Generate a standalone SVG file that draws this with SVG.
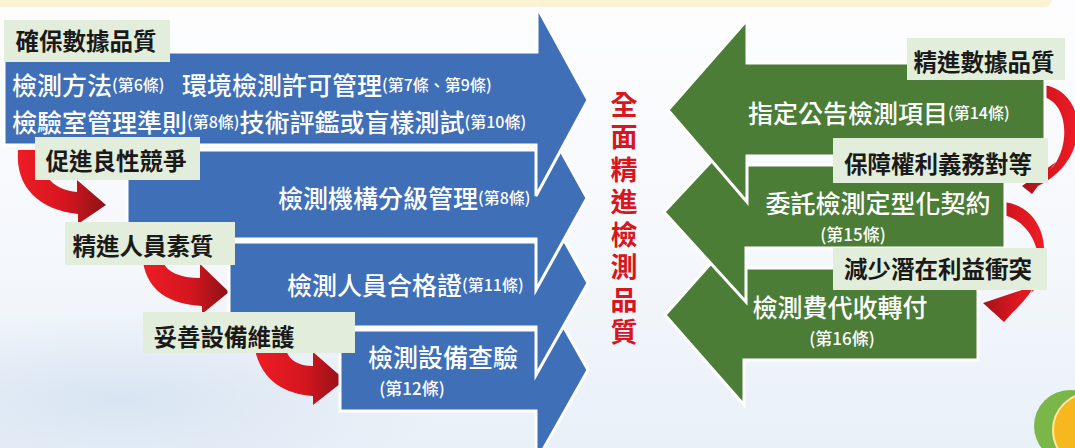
<svg xmlns="http://www.w3.org/2000/svg" width="1075" height="448" viewBox="0 0 1075 448">
<defs>
<linearGradient id="bg" x1="0" y1="0" x2="0" y2="1">
<stop offset="0" stop-color="#fdfdfe"/>
<stop offset="0.55" stop-color="#f5f8fc"/>
<stop offset="1" stop-color="#e9f0f8"/>
</linearGradient>
<radialGradient id="blot" cx="0.5" cy="0.5" r="0.5">
<stop offset="0" stop-color="#d6e3f1" stop-opacity="0.9"/>
<stop offset="1" stop-color="#d6e3f1" stop-opacity="0"/>
</radialGradient>
<linearGradient id="redL" x1="0" y1="0" x2="1" y2="0">
<stop offset="0" stop-color="#ee1c25"/>
<stop offset="0.55" stop-color="#d4161f"/>
<stop offset="1" stop-color="#8e1118"/>
</linearGradient>
<linearGradient id="redR" x1="0" y1="0" x2="1" y2="0">
<stop offset="0" stop-color="#a31219"/>
<stop offset="0.5" stop-color="#d8161f"/>
<stop offset="1" stop-color="#ee1c25"/>
</linearGradient>
<style>
.blue{fill:#3f6fb7;stroke:#ffffff;stroke-width:3;stroke-linejoin:miter}
.green{fill:#4b7d37;stroke:#ffffff;stroke-width:3;stroke-linejoin:miter}
.lbl{fill:#e2eedb}
.lt{font-family:"Noto Sans CJK TC","Noto Sans CJK SC",sans-serif;font-size:23.5px;font-weight:700;fill:#1a1a1a;text-anchor:middle;dominant-baseline:central}
.wt{font-family:"Noto Sans CJK TC","Noto Sans CJK SC",sans-serif;font-size:25px;font-weight:500;fill:#ffffff;dominant-baseline:central}
.sm{font-size:16px}
.s17{font-size:17px}
.mid{text-anchor:middle}
.rt{font-family:"Noto Sans CJK TC","Noto Sans CJK SC",sans-serif;font-size:27px;font-weight:700;fill:#d7161f;writing-mode:vertical-rl;letter-spacing:5.5px}
</style>
</defs>
<rect x="0" y="0" width="1075" height="448" fill="url(#bg)"/>
<ellipse cx="120" cy="400" rx="320" ry="90" fill="url(#blot)"/>
<rect x="-10" y="-20" width="1062" height="27" rx="8" fill="#fcf3d5"/>
<g id="deco">
<circle cx="1070" cy="426" r="36" fill="#7ab648"/>
<circle cx="1090" cy="430" r="37" fill="#f6b81e" stroke="#fde6a0" stroke-width="2"/>
</g>
<g id="connectors">
<path d="M18,150 C15,188 40,210 78,214 L78,224 L106,205 L77,180 L77,192 C55,190 42,178 37,150 Z" fill="url(#redL)"/>
<path d="M143,262 C148,292 170,304 202,306 L202,314 L229,292 L200,264 L200,278 C180,278 167,272 163,262 Z" fill="url(#redL)"/>
<path d="M255,350 C262,381 285,394 313,396 L313,405 L345,380 L313,352 L313,366 C298,366 289,360 286,350 Z" fill="url(#redL)"/>
<path d="M1044,85 C1088,92 1092,160 1038,186 L1032,194 L1022,186 L1056,162 L1050,170 C1070,150 1070,105 1044,97 Z" fill="url(#redR)"/>
<path d="M1003,202 C1045,205 1065,265 1013,312 L1004,322 L983,303 L1040,284 L1031,293 C1048,262 1035,222 1003,215 Z" fill="url(#redR)"/>
</g>
<g id="blue4"><polygon class="blue" points="340,330 536,330 536,278 588,370 536,462 536,411 340,411"/></g>
<g id="blue3"><polygon class="blue" points="229,242 536,242 536,190 588,283 536,375 536,327 229,327"/></g>
<g id="blue2"><polygon class="blue" points="127,150 536,150 536,106 587,198 536,290 536,239 127,239"/></g>
<g id="blue1"><polygon class="blue" points="4,52 537,52 537,7 588,100 536,196 536,145 4,145"/></g>
<g id="green3"><polygon class="green" points="978,268 744,268 744,226 665,315 744,405 744,360 978,360"/></g>
<g id="green2"><polygon class="green" points="1005,165 748,165 748,122 664,212 746,302 746,248 1005,248"/></g>
<g id="green1"><polygon class="green" points="1045,63 747,63 747,20 668,110 747,202 747,156 1045,156"/></g>
<g id="label1"><rect class="lbl" x="4" y="20" width="166" height="42"/><text class="lt" x="86" y="40">確保數據品質</text></g>
<g id="label2"><rect class="lbl" x="35" y="137" width="165" height="43"/><text class="lt" x="116" y="160">促進良性競爭</text></g>
<g id="label3"><rect class="lbl" x="65" y="222" width="170" height="43"/><text class="lt" x="143" y="245">精進人員素質</text></g>
<g id="label4"><rect class="lbl" x="143" y="312" width="212" height="41"/><text class="lt" x="224" y="336">妥善設備維護</text></g>
<g id="label5"><rect class="lbl" x="907" y="38" width="158" height="42"/><text class="lt" x="984" y="61">精進數據品質</text></g>
<g id="label6"><rect class="lbl" x="833" y="138" width="215" height="45"/><text class="lt" x="938" y="163">保障權利義務對等</text></g>
<g id="label7"><rect class="lbl" x="833" y="248" width="214" height="42"/><text class="lt" x="938" y="268">減少潛在利益衝突</text></g>
<g id="texts-blue">
<text class="wt" x="12" y="84">檢測方法<tspan class="sm">(第6條)</tspan><tspan x="182">環境檢測許可管理</tspan><tspan class="sm">(第7條、第9條)</tspan></text>
<text class="wt" x="12" y="120.5">檢驗室管理準則<tspan class="sm">(第8條)</tspan>技術評鑑或盲樣測試<tspan class="sm">(第10條)</tspan></text>
<text class="wt" x="278" y="197">檢測機構分級管理<tspan class="sm">(第8條)</tspan></text>
<text class="wt" x="287" y="284">檢測人員合格證<tspan class="sm">(第11條)</tspan></text>
<text class="wt mid" x="443" y="356">檢測設備查驗</text>
<text class="wt mid s17" x="412" y="387">(第12條)</text>
</g>
<g id="texts-green">
<text class="wt" x="748" y="112">指定公告檢測項目<tspan class="sm">(第14條)</tspan></text>
<text class="wt mid" x="878" y="202">委託檢測定型化契約</text>
<text class="wt mid s17" x="853" y="233">(第15條)</text>
<text class="wt mid" x="840" y="306">檢測費代收轉付</text>
<text class="wt mid s17" x="842" y="337">(第16條)</text>
</g>
<g id="center-title">
<text class="rt" x="624" y="91">全面精進檢測品質</text>
</g>
</svg>
